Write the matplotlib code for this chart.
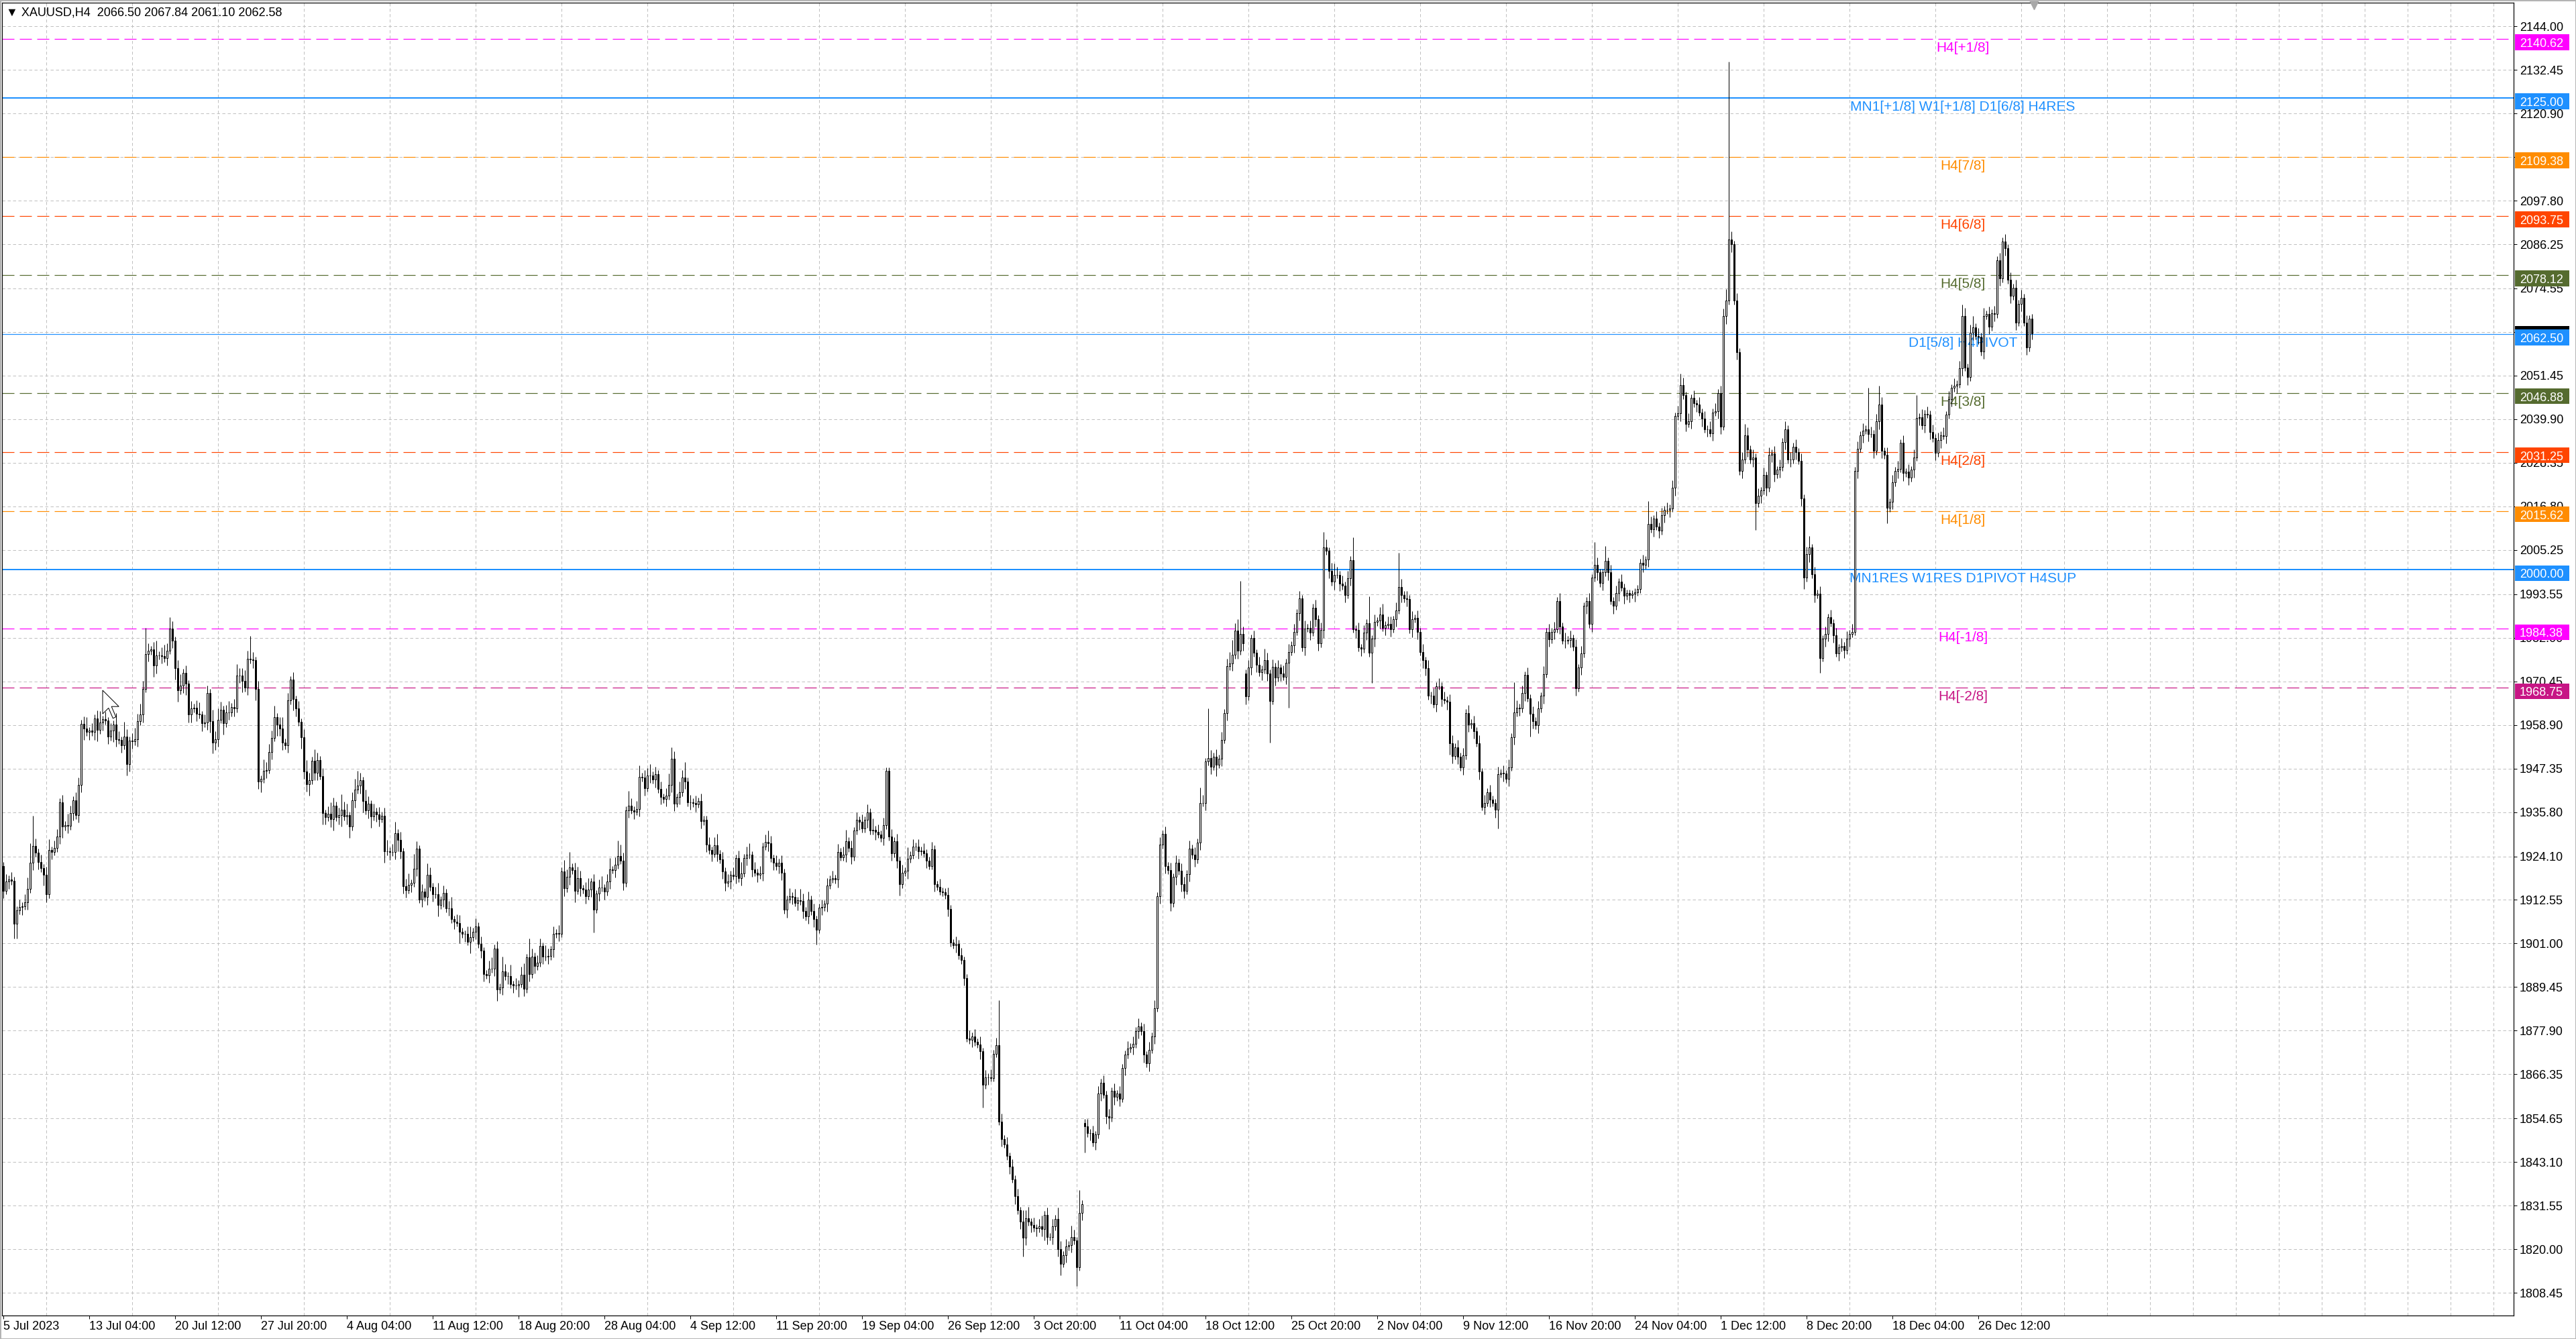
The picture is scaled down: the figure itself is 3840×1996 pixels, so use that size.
import numpy as np
import matplotlib
matplotlib.use("Agg")
import matplotlib.pyplot as plt
import matplotlib.transforms as mtransforms
from matplotlib.collections import LineCollection
from matplotlib.patches import Rectangle, Polygon

plt.rcParams["font.family"] = ["Liberation Sans", "DejaVu Sans"]
plt.rcParams["lines.scale_dashes"] = False

# ---- data ----
SYMBOL = "XAUUSD,H4"
FIRST_OPEN = 1921.6
CLOSES = [
    1915.0, 1917.4, 1918.0, 1917.6, 1906.3, 1909.8, 1910.6, 1910.9, 1912.0, 1915.5,
    1922.5, 1926.8, 1925.1, 1922.6, 1921.0, 1919.3, 1914.0, 1925.7, 1925.3, 1926.3,
    1929.3, 1938.4, 1932.0, 1932.4, 1932.2, 1935.6, 1939.0, 1935.0, 1943.0, 1959.2,
    1958.0, 1957.0, 1957.4, 1957.0, 1960.7, 1957.6, 1959.5, 1960.4, 1960.0, 1955.8,
    1957.4, 1959.0, 1955.2, 1954.9, 1953.5, 1955.8, 1948.6, 1954.8, 1954.6, 1955.2,
    1959.9, 1961.6, 1968.5, 1977.7, 1978.5, 1978.9, 1974.6, 1977.3, 1977.4, 1977.2,
    1976.6, 1978.6, 1984.4, 1981.3, 1974.0, 1968.0, 1969.4, 1972.7, 1969.8, 1961.6,
    1963.2, 1963.5, 1961.9, 1961.6, 1959.3, 1959.6, 1967.4, 1959.9, 1954.3, 1955.2,
    1960.3, 1963.0, 1959.4, 1962.2, 1962.2, 1963.7, 1963.2, 1972.0, 1972.0, 1970.5,
    1968.8, 1976.5, 1976.2, 1976.0, 1968.5, 1944.0, 1944.6, 1946.8, 1947.0, 1951.8,
    1955.5, 1961.0, 1959.0, 1958.0, 1954.3, 1953.5, 1965.4, 1970.9, 1965.7, 1963.2,
    1959.7, 1955.7, 1946.6, 1943.2, 1944.2, 1949.5, 1946.3, 1949.6, 1945.4, 1935.5,
    1934.5, 1935.4, 1933.9, 1937.6, 1934.5, 1935.0, 1936.5, 1934.6, 1935.0, 1932.0,
    1939.0, 1941.7, 1942.8, 1944.2, 1938.7, 1936.2, 1938.0, 1934.6, 1936.0, 1935.2,
    1934.0, 1934.9, 1925.4, 1925.5, 1925.2, 1925.3, 1930.3, 1928.5, 1925.4, 1916.2,
    1915.2, 1916.6, 1917.0, 1920.8, 1926.1, 1912.7, 1914.7, 1913.3, 1919.2, 1916.0,
    1914.1, 1914.0, 1911.2, 1912.6, 1914.4, 1910.3, 1910.3, 1907.4, 1906.8, 1906.5,
    1904.1, 1903.5, 1903.5, 1901.5, 1902.6, 1904.1, 1905.6, 1900.9, 1899.1, 1892.9,
    1892.6, 1894.4, 1894.3, 1899.7, 1888.8, 1889.4, 1893.6, 1892.3, 1892.4, 1890.2,
    1889.9, 1889.8, 1890.3, 1892.8, 1889.0, 1897.3, 1892.9, 1897.6, 1895.0, 1895.9,
    1900.3, 1897.6, 1897.5, 1897.7, 1899.4, 1903.5, 1903.8, 1903.6, 1920.1, 1915.6,
    1918.6, 1921.2, 1920.4, 1915.0, 1918.3, 1915.6, 1915.3, 1913.6, 1915.3, 1917.4,
    1910.0, 1914.2, 1915.9, 1915.8, 1914.7, 1917.4, 1920.6, 1920.5, 1921.8, 1924.2,
    1923.0, 1917.1, 1936.3, 1937.5, 1936.3, 1936.0, 1936.7, 1945.2, 1944.9, 1942.2,
    1945.5, 1945.6, 1944.4, 1945.9, 1941.9, 1939.8, 1939.3, 1940.1, 1943.1, 1949.9,
    1938.1, 1939.8, 1941.0, 1945.0, 1944.0, 1938.4, 1938.4, 1938.2, 1937.9, 1938.7,
    1933.4, 1933.8, 1927.2, 1925.7, 1924.8, 1927.1, 1924.8, 1923.3, 1920.1, 1917.0,
    1917.4, 1919.2, 1918.9, 1923.6, 1918.3, 1919.6, 1923.7, 1924.6, 1924.5, 1920.6,
    1919.8, 1919.2, 1919.6, 1926.7, 1927.9, 1927.5, 1923.6, 1922.4, 1921.5, 1922.4,
    1919.8, 1909.9, 1912.7, 1913.6, 1913.4, 1911.8, 1912.4, 1912.3, 1909.7, 1908.2,
    1912.7, 1909.6, 1907.4, 1904.7, 1910.5, 1910.6, 1911.5, 1916.4, 1918.0, 1918.3,
    1917.9, 1925.3, 1923.9, 1924.6, 1928.1, 1926.3, 1924.0, 1930.9, 1933.7, 1933.2,
    1931.4, 1933.7, 1935.8, 1930.9, 1931.2, 1930.5, 1929.9, 1929.0, 1932.3, 1946.7,
    1929.3, 1924.9, 1928.1, 1923.0, 1916.7, 1919.8, 1920.2, 1923.5, 1924.4, 1926.7,
    1926.6, 1925.4, 1925.6, 1924.9, 1923.0, 1921.6, 1926.0, 1916.7, 1916.1, 1914.8,
    1914.6, 1913.9, 1910.2, 1901.2, 1900.6, 1900.9, 1897.8, 1896.6, 1891.9, 1875.9,
    1875.5, 1876.4, 1874.9, 1874.3, 1872.4, 1863.6, 1865.5, 1865.6, 1865.4, 1871.8,
    1874.0, 1853.9, 1849.2, 1847.8, 1844.7, 1841.9, 1838.6, 1834.0, 1830.3, 1827.3,
    1823.1, 1828.3, 1827.3, 1826.4, 1825.7, 1825.5, 1826.0, 1825.4, 1829.1, 1823.3,
    1823.3, 1826.0, 1828.1, 1820.1, 1816.2, 1818.5, 1820.7, 1821.1, 1823.2, 1822.3,
    1815.3, 1829.7, 1832.0, 1852.6, 1850.8, 1850.8, 1848.3, 1850.4, 1861.3, 1864.1,
    1861.0, 1855.2, 1854.8, 1861.9, 1860.3, 1861.2, 1859.9, 1868.1, 1871.6, 1873.1,
    1873.6, 1874.4, 1877.8, 1879.1, 1877.8, 1871.5, 1869.2, 1872.9, 1876.4, 1883.9,
    1913.6, 1927.2, 1930.0, 1921.6, 1920.4, 1911.7, 1918.6, 1922.4, 1920.2, 1916.7,
    1915.0, 1919.4, 1926.2, 1924.5, 1923.3, 1927.8, 1938.3, 1938.3, 1949.2, 1950.2,
    1947.9, 1950.5, 1948.4, 1950.0, 1955.0, 1962.1, 1974.5, 1975.2, 1977.5, 1983.9,
    1978.5, 1983.0, 1980.6, 1966.4, 1974.1, 1981.9, 1978.0, 1974.9, 1972.8, 1973.6,
    1976.1, 1972.6, 1965.3, 1974.3, 1971.4, 1974.1, 1972.6, 1971.7, 1975.4, 1978.3,
    1980.0, 1983.6, 1988.6, 1992.4, 1979.4, 1984.5, 1984.6, 1983.4, 1990.0, 1987.0,
    1980.5, 1984.0, 2006.0, 2005.0, 1999.8, 1996.8, 1998.7, 1998.7, 1996.4, 1995.8,
    1993.4, 1997.8, 2002.6, 1984.3, 1984.0, 1979.4, 1979.1, 1983.4, 1985.9, 1978.0,
    1981.7, 1986.2, 1986.5, 1988.1, 1984.7, 1985.4, 1985.6, 1984.3, 1986.9, 1989.3,
    1995.5, 1993.3, 1992.4, 1992.3, 1984.2, 1987.0, 1987.2, 1983.6, 1978.3, 1976.0,
    1974.0, 1966.6, 1966.7, 1964.4, 1969.2, 1969.2, 1965.8, 1965.5, 1965.0, 1954.1,
    1950.7, 1953.0, 1950.5, 1947.7, 1950.8, 1962.1, 1959.0, 1959.4, 1957.3, 1954.1,
    1946.5, 1937.2, 1938.3, 1941.1, 1939.2, 1938.3, 1936.4, 1945.9, 1946.2, 1946.0,
    1944.6, 1947.7, 1955.7, 1962.2, 1963.5, 1963.3, 1967.3, 1972.1, 1966.0, 1961.9,
    1959.9, 1958.8, 1963.3, 1966.6, 1972.4, 1983.6, 1981.6, 1983.6, 1984.3, 1991.8,
    1985.0, 1981.3, 1981.3, 1981.5, 1981.9, 1979.6, 1968.7, 1974.1, 1977.8, 1990.4,
    1991.8, 1985.6, 1997.9, 2001.3, 1999.3, 1996.5, 1999.3, 2002.3, 1999.3, 1991.8,
    1990.4, 1993.8, 1996.8, 1995.3, 1993.1, 1993.8, 1993.4, 1993.6, 1994.1, 1994.9,
    2001.9, 2001.3, 2002.7, 2012.2, 2010.8, 2013.5, 2011.5, 2010.4, 2014.5, 2015.9,
    2015.9, 2016.3, 2021.7, 2040.7, 2041.4, 2048.9, 2046.2, 2038.7, 2039.4, 2045.5,
    2044.1, 2043.8, 2041.7, 2040.0, 2037.3, 2037.3, 2036.2, 2041.7, 2042.1, 2046.8,
    2038.0, 2067.2, 2071.3, 2087.6, 2086.2, 2071.3, 2057.7, 2026.2, 2029.2, 2035.7,
    2031.9, 2029.2, 2029.8, 2017.6, 2019.6, 2021.0, 2025.1, 2021.7, 2030.5, 2030.8,
    2025.3, 2026.5, 2027.2, 2033.9, 2037.3, 2029.2, 2029.2, 2032.6, 2031.2, 2028.9,
    2019.0, 1997.9, 2004.1, 2005.9, 1998.8, 1993.4, 1993.7, 1976.7, 1981.7, 1983.0,
    1987.4, 1985.9, 1982.7, 1977.9, 1979.4, 1979.9, 1978.7, 1981.7, 1983.1, 1983.6,
    2026.2, 2032.1, 2035.7, 2036.9, 2037.2, 2036.0, 2036.0, 2031.5, 2039.3, 2043.8,
    2031.5, 2030.4, 2016.4, 2018.0, 2023.2, 2026.2, 2026.8, 2033.6, 2025.6, 2026.0,
    2024.4, 2026.5, 2029.8, 2040.3, 2040.5, 2038.3, 2041.3, 2041.2, 2036.5, 2034.9,
    2031.0, 2034.3, 2035.7, 2035.5, 2041.1, 2045.3, 2048.2, 2048.8, 2049.2, 2053.4,
    2067.3, 2053.6, 2051.0, 2062.9, 2064.3, 2062.0, 2061.8, 2057.8, 2067.3, 2067.7,
    2064.4, 2068.0, 2067.8, 2082.0, 2077.2, 2087.0, 2085.2, 2076.8, 2072.6, 2074.8,
    2065.5, 2070.5, 2072.1, 2065.5, 2058.9, 2066.5, 2062.58,
]
# wick lengths above / below the body, in dollars
UPPER_WICK = [
    1, 2, 1, 2, 1, 1, 2, 1, 2, 3,   5, 8, 2, 1, 2, 1, 2, 3, 1, 2,
    2, 1, 2, 1, 3, 2, 1, 2, 2, 1,   2, 3, 1, 2, 1, 2, 3, 1, 2, 1,
    2, 1, 3, 2, 1, 4, 2, 1, 2, 3,   2, 3, 2, 7, 2, 1, 2, 4, 1, 2,
    3, 2, 3, 2, 1, 2, 3, 1, 2, 1,   2, 1, 2, 3, 1, 2, 2, 1, 3, 2,
    3, 2, 1, 2, 3, 1, 2, 3, 2, 2,   3, 2, 6, 2, 1, 2, 1, 3, 2, 2,
    2, 3, 1, 2, 3, 1, 2, 1, 2, 1,   2, 1, 2, 3, 2, 1, 3, 2, 1, 2,
    1, 2, 3, 2, 1, 2, 4, 2, 3, 1,   2, 3, 4, 2, 1, 3, 2, 1, 2, 1,
    2, 1, 2, 3, 1, 2, 3, 1, 2, 1,   2, 3, 1, 4, 2, 1, 2, 1, 3, 2,
    1, 2, 3, 1, 2, 1, 2, 3, 1, 2,   2, 1, 1, 2, 3, 1, 2, 1, 2, 1,
    1, 2, 3, 1, 2, 1, 4, 2, 1, 3,   1, 2, 1, 2, 3, 1, 5, 2, 1, 2,
    2, 1, 3, 2, 1, 2, 1, 2, 1, 3,   2, 4, 1, 2, 3, 2, 1, 2, 3, 1,
    2, 1, 2, 3, 1, 2, 3, 1, 2, 4,   3, 2, 1, 4, 2, 1, 2, 3, 1, 2,
    2, 3, 1, 2, 1, 2, 1, 2, 3, 3,   2, 1, 3, 2, 4, 1, 2, 1, 2, 1,
    2, 1, 1, 2, 1, 2, 3, 1, 2, 1,   2, 1, 2, 1, 2, 3, 1, 2, 3, 1,
    2, 1, 2, 1, 2, 3, 2, 1, 2, 1,   2, 1, 1, 2, 1, 2, 1, 3, 2, 1,
    2, 1, 2, 1, 1, 2, 1, 2, 1, 2,   1, 2, 1, 2, 3, 1, 2, 1, 2, 1,
    2, 1, 2, 1, 3, 1, 2, 1, 2, 1,   1, 2, 1, 2, 1, 2, 1, 3, 1, 2,
    1, 2, 1, 2, 1, 1, 2, 1, 1, 2,   1, 1, 2, 1, 1, 2, 1, 2, 1, 1,
    2, 1, 2, 1, 2, 1, 2, 1, 2, 1,   2, 12, 2, 1, 2, 1, 2, 1, 2, 1,
    3, 2, 3, 1, 2, 1, 2, 3, 1, 2,   1, 2, 1, 3, 2, 1, 2, 1, 3, 2,
    1, 6, 1, 1, 2, 1, 2, 1, 2, 1,   2, 1, 2, 1, 2, 1, 2, 1, 1, 2,
    1, 2, 1, 2, 1, 2, 1, 2, 1, 2,   1, 2, 1, 2, 1, 2, 1, 2, 1, 2,
    2, 1, 2, 1, 2, 1, 4, 2, 1, 13,  2, 1, 2, 1, 2, 1, 2, 3, 4, 2,
    3, 14, 2, 1, 2, 1, 2, 1, 2, 1,  3, 2, 1, 2, 1, 2, 1, 2, 1, 2,
    1, 2, 1, 2, 1, 2, 1, 2, 1, 2,   1, 2, 4, 2, 1, 2, 3, 2, 1, 2,
    1, 2, 1, 6, 1, 2, 1, 2, 1, 7,   1, 2, 1, 2, 3, 1, 2, 2, 1, 2,
    9, 2, 1, 2, 1, 2, 1, 2, 1, 2,   1, 2, 1, 2, 1, 2, 1, 2, 1, 2,
    2, 1, 2, 1, 2, 1, 2, 1, 2, 1,   2, 1, 2, 1, 2, 1, 1, 2, 1, 2,
    1, 2, 1, 8, 2, 1, 2, 1, 2, 1,   2, 1, 2, 1, 2, 1, 2, 1, 2, 1,
    2, 1, 2, 1, 2, 1, 2, 1, 2, 1,   1, 2, 1, 6, 2, 1, 1, 4, 1, 2,
    1, 2, 1, 2, 1, 1, 1, 1, 1, 1,   1, 2, 1, 6, 2, 1, 2, 1, 2, 1,
    2, 1, 2, 1, 2, 3, 2, 1, 2, 1,   2, 1, 2, 1, 2, 1, 2, 1, 2, 1,
    2, 2, 3, 47, 2, 1, 2, 1, 2, 3,  2, 1, 2, 1, 2, 1, 2, 1, 2, 1,
    2, 1, 2, 1, 2, 1, 2, 1, 2, 1,   2, 1, 2, 3, 1, 2, 1, 2, 1, 2,
    1, 2, 1, 2, 1, 2, 1, 2, 1, 2,   1, 2, 1, 2, 1, 11, 2, 1, 2, 5,
    2, 1, 2, 1, 2, 1, 2, 1, 2, 1,   2, 1, 2, 6, 1, 2, 1, 2, 1, 2,
    1, 2, 1, 2, 1, 2, 1, 2, 1, 2,   3, 2, 1, 2, 3, 1, 2, 1, 2, 1,
    2, 1, 2, 1, 2, 1, 2, 1, 2, 1,   2, 1, 2, 1, 2, 1, 1.34,
]
LOWER_WICK = [
    2, 1, 2, 1, 4, 4, 1, 2, 1, 2,   1, 2, 1, 2, 1, 3, 2, 1, 2, 1,
    1, 2, 3, 1, 2, 1, 2, 1, 2, 2,   3, 1, 2, 1, 2, 3, 1, 2, 1, 2,
    1, 3, 2, 1, 2, 1, 3, 2, 2, 1,   2, 1, 2, 1, 2, 1, 3, 2, 1, 2,
    1, 2, 1, 2, 3, 3, 1, 2, 3, 2,   2, 1, 2, 1, 2, 1, 2, 3, 3, 2,
    2, 1, 3, 1, 2, 1, 2, 1, 2, 3,   1, 2, 1, 2, 3, 2, 3, 1, 2, 1,
    2, 1, 3, 2, 2, 1, 2, 1, 3, 2,   1, 3, 2, 2, 3, 1, 2, 2, 1, 3,
    2, 1, 2, 3, 1, 2, 3, 1, 2, 3,   1, 2, 1, 2, 3, 1, 2, 3, 1, 2,
    2, 1, 3, 1, 2, 1, 2, 3, 2, 2,   2, 1, 2, 1, 2, 1, 2, 1, 2, 1,
    2, 1, 3, 1, 2, 1, 2, 1, 2, 1,   3, 1, 2, 1, 3, 1, 2, 1, 2, 2,
    1, 2, 1, 2, 3, 1, 2, 1, 2, 1,   2, 1, 3, 1, 2, 1, 2, 1, 2, 1,
    1, 2, 1, 2, 1, 2, 1, 2, 1, 2,   1, 2, 1, 3, 1, 2, 1, 2, 1, 2,
    6, 1, 2, 1, 2, 1, 2, 1, 2, 1,   1, 2, 1, 2, 1, 2, 1, 2, 1, 2,
    1, 2, 1, 2, 1, 2, 1, 2, 1, 2,   2, 1, 2, 1, 2, 1, 2, 1, 2, 1,
    2, 1, 2, 1, 2, 1, 2, 1, 2, 2,   1, 2, 1, 2, 1, 2, 1, 2, 1, 2,
    1, 2, 1, 2, 1, 2, 1, 2, 1, 2,   2, 1, 2, 1, 2, 1, 2, 1, 2, 1,
    2, 1, 2, 4, 1, 2, 1, 2, 1, 1,   1, 2, 1, 1, 2, 1, 2, 1, 1, 2,
    1, 1, 2, 1, 1, 2, 1, 1, 2, 1,   1, 2, 1, 2, 3, 1, 1, 2, 1, 1,
    1, 2, 1, 1, 2, 1, 1, 2, 1, 1,   1, 1, 2, 1, 1, 2, 1, 1, 2, 1,
    1, 2, 1, 1, 2, 6, 1, 2, 1, 1,   1, 1, 2, 1, 1, 2, 1, 2, 1, 2,
    5, 2, 1, 2, 1, 2, 1, 2, 3, 2,   1, 2, 1, 2, 3, 1, 2, 1, 2, 1,
    5, 1, 2, 7, 1, 2, 1, 2, 1, 2,   1, 2, 3, 1, 2, 1, 2, 1, 2, 1,
    1, 2, 1, 2, 1, 2, 1, 2, 1, 2,   1, 2, 1, 2, 1, 2, 1, 2, 1, 2,
    2, 1, 2, 1, 2, 1, 2, 1, 2, 1,   2, 1, 3, 1, 2, 1, 2, 1, 2, 1,
    2, 1, 2, 2, 1, 2, 1, 2, 1, 2,   1, 2, 11, 1, 2, 1, 2, 1, 2, 12,
    1, 2, 1, 2, 1, 2, 1, 2, 1, 2,   2, 1, 2, 1, 2, 1, 2, 1, 2, 1,
    2, 1, 2, 1, 2, 1, 2, 1, 2, 1,   8, 2, 1, 2, 1, 2, 1, 2, 1, 2,
    1, 2, 1, 2, 1, 2, 1, 2, 1, 2,   2, 1, 2, 1, 2, 1, 2, 1, 2, 3,
    2, 1, 2, 1, 2, 1, 2, 1, 2, 1,   2, 1, 2, 1, 2, 1, 2, 5, 1, 2,
    1, 2, 1, 2, 1, 2, 1, 2, 1, 6,   2, 1, 2, 1, 2, 1, 2, 1, 2, 1,
    2, 1, 2, 1, 2, 1, 2, 1, 2, 1,   2, 1, 2, 1, 2, 1, 2, 1, 2, 1,
    2, 1, 2, 1, 2, 1, 2, 1, 2, 1,   1, 2, 1, 2, 1, 2, 1, 2, 1, 2,
    1, 2, 1, 2, 1, 2, 1, 2, 1, 2,   1, 2, 1, 2, 1, 2, 1, 2, 1, 2,
    2, 1, 2, 1, 2, 1, 2, 1, 2, 1,   2, 1, 2, 7, 1, 2, 1, 2, 1, 2,
    2, 1, 2, 1, 2, 1, 2, 1, 2, 1,   2, 3, 1, 2, 1, 2, 1, 4, 1, 2,
    2, 1, 2, 1, 2, 1, 2, 1, 2, 1,   1, 2, 1, 2, 1, 2, 1, 2, 1, 2,
    2, 1, 4, 1, 2, 1, 2, 1, 2, 1,   2, 1, 2, 1, 2, 1, 2, 1, 2, 1,
    2, 1, 2, 1, 2, 1, 2, 1, 2, 1,   2, 1, 2, 1, 2, 1, 2, 1, 2, 1,
    2, 1, 2, 1, 2, 1, 2, 1, 2, 1,   2, 1, 2, 1, 2, 1, 1.48,
]
GAP_OPENS = {403: 1853.5, 463: 1972.6}   # weekend gaps
LAST_BAR = [2066.50, 2067.84, 2061.10, 2062.58]

TIME_LABELS = ["5 Jul 2023", "13 Jul 04:00", "20 Jul 12:00", "27 Jul 20:00", "4 Aug 04:00",
               "11 Aug 12:00", "18 Aug 20:00", "28 Aug 04:00", "4 Sep 12:00", "11 Sep 20:00",
               "19 Sep 04:00", "26 Sep 12:00", "3 Oct 20:00", "11 Oct 04:00", "18 Oct 12:00",
               "25 Oct 20:00", "2 Nov 04:00", "9 Nov 12:00", "16 Nov 20:00", "24 Nov 04:00",
               "1 Dec 12:00", "8 Dec 20:00", "18 Dec 04:00", "26 Dec 12:00"]
PRICE_TICKS = [2144.00, 2132.45, 2120.90, 2109.35, 2097.80, 2086.25, 2074.55, 2063.00,
               2051.45, 2039.90, 2028.35, 2016.80, 2005.25, 1993.55, 1982.00, 1970.45,
               1958.90, 1947.35, 1935.80, 1924.10, 1912.55, 1901.00, 1889.45, 1877.90,
               1866.35, 1854.65, 1843.10, 1831.55, 1820.00, 1808.45]
# tick labels fully covered by level tags in the screenshot
COVERED_TICKS = [2109.35, 2063.00]

LEVELS = [2140.62, 2125.00, 2109.38, 2093.75, 2078.12, 2062.50,
          2046.88, 2031.25, 2015.62, 2000.00, 1984.38, 1968.75]
LEVEL_TEXT = ["H4[+1/8]", "MN1[+1/8] W1[+1/8] D1[6/8] H4RES", "H4[7/8]", "H4[6/8]",
              "H4[5/8]", "D1[5/8] H4PIVOT", "H4[3/8]", "H4[2/8]", "H4[1/8]",
              "MN1RES W1RES D1PIVOT H4SUP", "H4[-1/8]", "H4[-2/8]"]

# ---- styles / layout ----
LEVEL_COLORS = ["#FF00FF", "#1E90FF", "#FF8C00", "#FF4500", "#556B2F", "#1E90FF",
                "#556B2F", "#FF4500", "#FF8C00", "#1E90FF", "#FF00FF", "#C71585"]
LEVEL_KIND = ["h4", "main", "h4", "h4", "h4", "pivot", "h4", "h4", "h4", "main", "h4", "h4"]

W, H, DPI = 3840, 1996, 100
PX = 72 / DPI                       # one pixel in points
AX_L, AX_R, AX_T, AX_B = 3, 3747, 4, 1961
X_RANGE = (-0.5, 935.5)
Y_RANGE = (1802.45, 2150.25)
PRICE_PER_PX = (Y_RANGE[1] - Y_RANGE[0]) / (AX_B - AX_T)
BARS_PER_LABEL = 32
BARS_PER_GRID = 16
LABEL_BAR = 730.25
GRID_KW = dict(color="#C0C0C0", lw=1 * PX, ls=(0, (4.5 * PX, 3.5 * PX)))


def build_ohlc():
    closes = np.array(CLOSES, dtype=float)
    opens = np.concatenate([[FIRST_OPEN], closes[:-1]])
    for i, o in GAP_OPENS.items():
        opens[i] = o
    highs = np.maximum(opens, closes) + np.array(UPPER_WICK, dtype=float)
    lows = np.minimum(opens, closes) - np.array(LOWER_WICK, dtype=float)
    return opens, highs, lows, closes


def draw_candles(ax, o, h, l, c):
    x = np.arange(len(c))
    segs = [((i, lo), (i, hi)) for i, lo, hi in zip(x, l, h)]
    ax.add_collection(LineCollection(segs, colors="black", linewidths=1.0 * PX, zorder=3))
    up = c >= o
    ax.bar(x, np.abs(c - o), bottom=np.minimum(o, c), width=0.55,
           color=["white" if u else "black" for u in up],
           edgecolor="black", linewidth=1.0 * PX, zorder=4)


def draw_levels(ax):
    trans = mtransforms.blended_transform_factory(ax.transAxes, ax.transData)
    ax_w = AX_R - AX_L
    box_h = 23.5 * PRICE_PER_PX
    box_x, box_w = 1 + 2 / ax_w, 81 / ax_w
    for lvl, name, col, kind in zip(LEVELS, LEVEL_TEXT, LEVEL_COLORS, LEVEL_KIND):
        if kind == "h4":
            ax.axhline(lvl, color=col, lw=1.2 * PX, ls=(0, (18 * PX, 8 * PX)), zorder=1)
        else:
            ax.axhline(lvl, color=col, lw=(2.0 if kind == "main" else 1.2) * PX, zorder=1)
        ax.text(LABEL_BAR, lvl - 4 * PRICE_PER_PX, name, color=col, fontsize=15,
                ha="center", va="top", zorder=2)
        # MT4 draws the price tag a few pixels below its line
        ax.add_patch(Rectangle((box_x, lvl - 16.8 * PRICE_PER_PX), box_w, box_h,
                               transform=trans, facecolor=col, edgecolor="none",
                               clip_on=False, zorder=6))
        ax.text(1 + 9 / ax_w, lvl - 5.5 * PRICE_PER_PX, f"{lvl:.2f}", transform=trans,
                color="white", fontsize=13, ha="left", va="center_baseline",
                clip_on=False, zorder=7)
    # current price tag peeking above the pivot tag
    cur = LAST_BAR[3]
    ax.add_patch(Rectangle((box_x, cur - 12.5 * PRICE_PER_PX), box_w, box_h,
                           transform=trans, facecolor="black", edgecolor="none",
                           clip_on=False, zorder=5))


def draw_axes(ax):
    ax.set_xlim(*X_RANGE)
    ax.set_ylim(*Y_RANGE)
    ax.yaxis.tick_right()
    labels = ["" if p in COVERED_TICKS else f"{p:.2f}" for p in PRICE_TICKS]
    ax.set_yticks(PRICE_TICKS, labels)
    ax.tick_params(axis="y", direction="out", length=5 * PX, width=1 * PX, pad=4 * PX,
                   labelsize=13)
    ax.set_xticks(np.arange(len(TIME_LABELS)) * BARS_PER_LABEL, TIME_LABELS, ha="left")
    ax.tick_params(axis="x", which="major", direction="out", length=5 * PX, width=1 * PX,
                   pad=3 * PX, labelsize=13)
    ax.set_xticks(np.arange(BARS_PER_GRID, X_RANGE[1], BARS_PER_GRID), minor=True)
    ax.tick_params(axis="x", which="minor", length=0)
    ax.xaxis.grid(True, which="minor", **GRID_KW)
    ax.yaxis.grid(True, which="major", **GRID_KW)
    ax.set_axisbelow(True)
    for sp in ax.spines.values():
        sp.set_linewidth(1.2 * PX)
        sp.set_color("black")


def main():
    fig = plt.figure(figsize=(W / DPI, H / DPI), dpi=DPI, facecolor="white")
    ax = fig.add_axes([AX_L / W, (H - AX_B) / H, (AX_R - AX_L) / W, (AX_B - AX_T) / H])
    ax.set_facecolor("white")

    o, h, l, c = build_ohlc()
    draw_levels(ax)
    draw_candles(ax, o, h, l, c)
    draw_axes(ax)

    # title line
    title = "\u25BC " + SYMBOL + "  " + " ".join(f"{v:.2f}" for v in LAST_BAR)
    fig.text(9 / W, 1 - 19 / H, title, fontsize=13, ha="left", va="center")

    # chart-shift marker
    ax.plot([len(CLOSES) - 0.2], [Y_RANGE[1] - 2 * PRICE_PER_PX], marker="v", ms=12 * PX * 1.4,
            color="#A8A8A8", clip_on=False, zorder=8)

    # mouse cursor left in the screenshot
    tip = np.array([153, H - 1029])
    shape = np.array([(0, 0), (0, 16), (4, 12), (7, 19), (9, 18), (6, 11), (11, 11)]) * 2.2
    pts = tip + shape * np.array([1, -1])
    fig.add_artist(Polygon(pts, closed=True, facecolor="white", edgecolor="black",
                           lw=1 * PX, transform=mtransforms.IdentityTransform(), zorder=9))

    # window frame
    fig.add_artist(Rectangle((0, 0), 1, 1, transform=fig.transFigure, fill=False,
                             edgecolor="#B4B4B4", lw=3 * PX, zorder=10))

    fig.savefig("out.png", dpi=DPI, facecolor="white")


if __name__ == "__main__":
    main()
